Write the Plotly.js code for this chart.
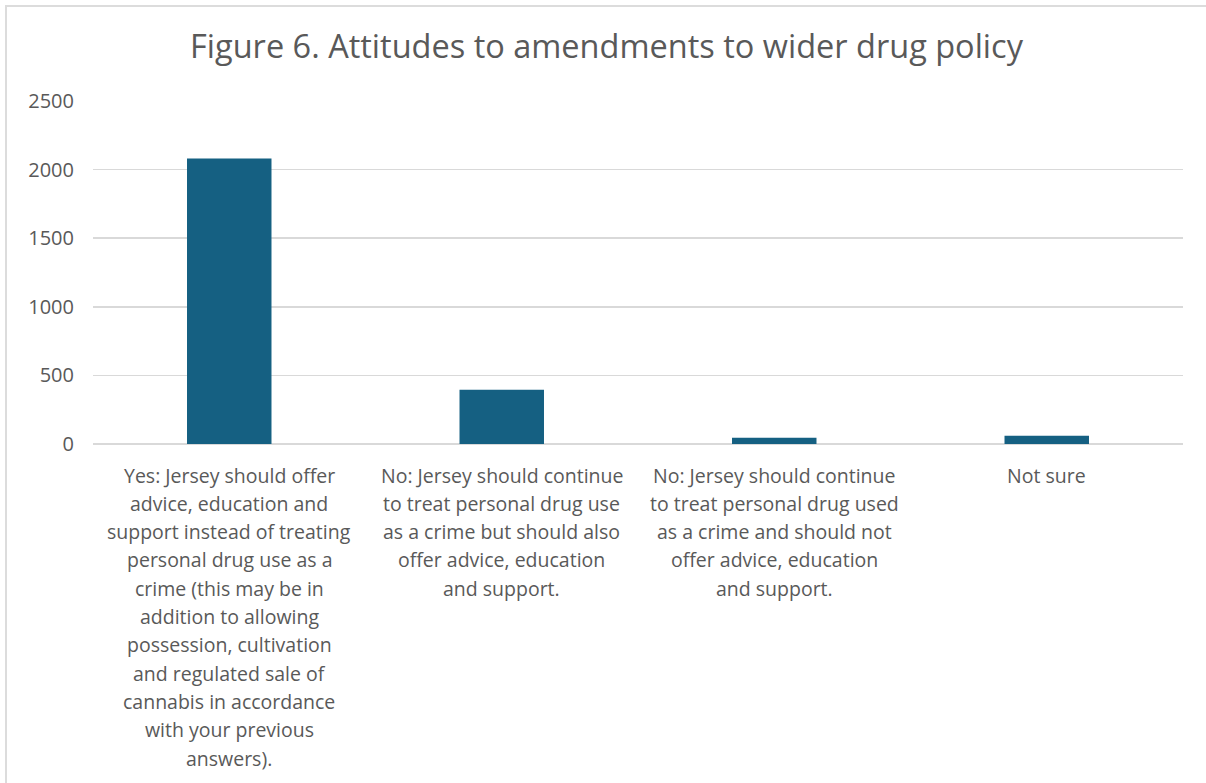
<!DOCTYPE html>
<html>
<head>
<meta charset="utf-8">
<script src="https://cdn.plot.ly/plotly-3.0.1.min.js"></script>
<style>
  html, body { margin: 0; padding: 0; background: #ffffff; }
  #frame { position: absolute; left: 5px; top: 5px; width: 1199px; height: 776px;
           border-left: 2px solid #dcdcdc; border-top: 2px solid #dcdcdc; }
  #chart { width: 1199px; height: 776px; }
</style>
</head>
<body>
<div id="frame"><div id="chart"></div></div>
<script>
// ---- data ----
const categories = ["Yes", "No, also support", "No, no support", "Not sure"];
const labelLines = [
  ["Yes: Jersey should offer", "advice, education and", "support instead of treating", "personal drug use as a",
   "crime (this may be in", "addition to allowing", "possession, cultivation", "and regulated sale of",
   "cannabis in accordance", "with your previous", "answers)."],
  ["No: Jersey should continue", "to treat personal drug use", "as a crime but should also", "offer advice, education", "and support."],
  ["No: Jersey should continue", "to treat personal drug used", "as a crime and should not", "offer advice, education", "and support."],
  ["Not sure"]
];
const counts = [2080, 395, 46, 60];
const yTicks = [0, 500, 1000, 1500, 2000, 2500];
const titleText = "Figure 6. Attitudes to amendments to wider drug policy";

// ---- style ----
const gray = "#595959";
const fontFam = "'Open Sans', 'Noto Sans', sans-serif";
const lineStep = 28.3;
const firstOffset = 31;

const annotations = [];
labelLines.forEach((lines, ci) => {
  lines.forEach((t, li) => {
    annotations.push({
      x: categories[ci], xref: "x", y: 0, yref: "paper",
      yanchor: "middle", xanchor: "center",
      yshift: -(firstOffset + li * lineStep),
      text: t, showarrow: false,
      font: { family: fontFam, size: 19.5, color: gray }
    });
  });
});

const trace = {
  type: "bar",
  x: categories,
  y: counts,
  marker: { color: "#156082", line: { width: 0 } },
  hoverinfo: "x+y"
};

const layout = {
  width: 1199, height: 776,
  margin: { l: 86, r: 23, t: 94, b: 339, pad: 0 },
  paper_bgcolor: "#ffffff",
  plot_bgcolor: "#ffffff",
  bargap: 0.69,
  showlegend: false,
  title: {
    text: titleText,
    font: { family: fontFam, size: 32.5, color: gray },
    x: 0.5, xanchor: "center", y: 1 - 40 / 776, yanchor: "middle", yref: "container"
  },
  xaxis: {
    type: "category",
    showticklabels: false,
    showgrid: false, zeroline: false, showline: false, ticks: ""
  },
  yaxis: {
    range: [0, 2500],
    tickvals: yTicks,
    ticktext: yTicks.map(String),
    showgrid: true, gridcolor: "#d9d9d9", gridwidth: 1.5,
    zeroline: true, zerolinecolor: "#d9d9d9", zerolinewidth: 1.5,
    showline: false, ticks: "",
    ticklabelstandoff: 18,
    tickfont: { family: fontFam, size: 20, color: gray }
  },
  annotations: annotations
};

Plotly.newPlot("chart", [trace], layout, { displayModeBar: false, staticPlot: true });
</script>
</body>
</html>
